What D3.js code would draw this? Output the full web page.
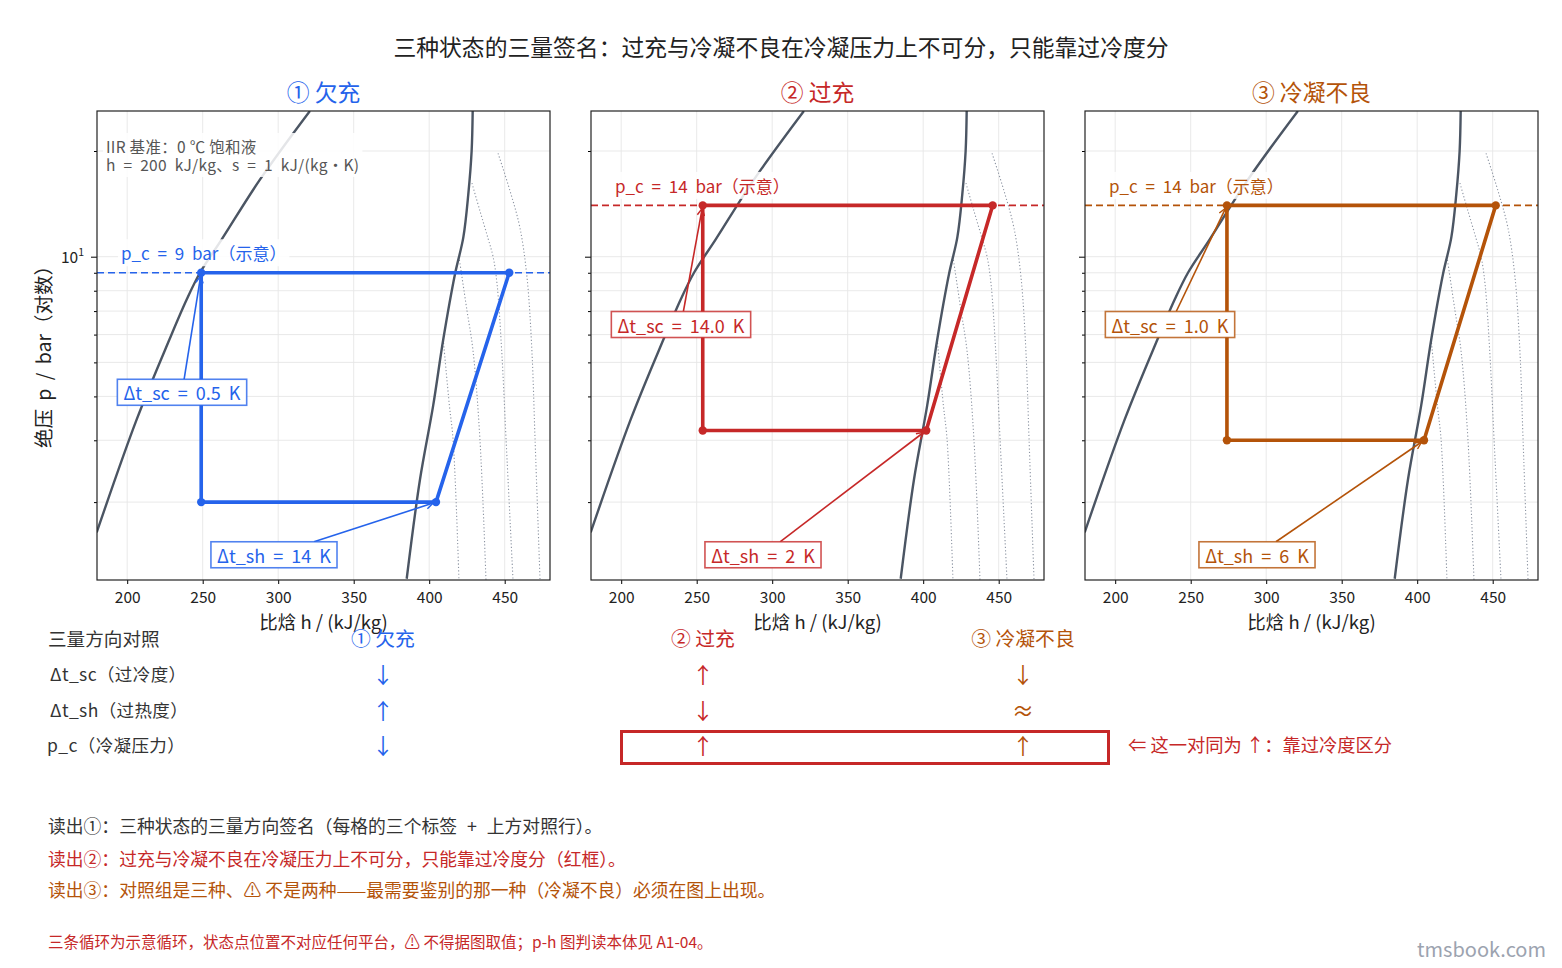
<!DOCTYPE html>
<html>
<head>
<meta charset="utf-8">
<script src="https://cdn.jsdelivr.net/npm/d3@7"></script>
<style>
  body { margin: 0; background: #fff; }
  text { font-family: "Noto Sans CJK SC", "Noto Sans", sans-serif; }
</style>
</head>
<body>
<svg id="chart" width="1562" height="968"></svg>
<script>
// ---- data ----
var hTicks = [200, 250, 300, 350, 400, 450];
var pMajor = [10];
var pMinor = [2, 3, 4, 5, 6, 7, 8, 9, 20];

// saturation dome [h, p]
var satLiquid = [[179.8, 1.64], [206.3, 3.44], [227.9, 5.8], [239.4, 7.55],
                 [248.2, 9.0], [262.6, 11.2], [288, 16.6], [321, 26.0]];
var satVapor = [[385.1, 1.21], [393.9, 2.32], [402.6, 3.76], [409.3, 5.81], [417.1, 8.93],
                [422.6, 11.35], [425.9, 15.07], [428.1, 20.0], [428.8, 26.0]];

// dotted guide curves in the vapour region
var isen1 = [[409.3, 5.81], [413.4, 3.76], [415.8, 3.02], [419.7, 1.2]];
var isen2 = [[419.7, 10], [425, 7.03], [429, 5.41], [433.6, 3.02], [437.6, 1.2]];
var isen3 = [[428.3, 16.2], [433.6, 13.5], [438.9, 11.3], [442.3, 10], [444.9, 8.38], [448, 5.41], [450.9, 3.02], [455.5, 1.2]];
var isen4 = [[445.6, 19.7], [453.5, 15.4], [460.1, 12.08], [464.8, 8.71], [468, 5.41], [470.1, 3.02], [473.4, 1.2]];

var panelNames = ["① 欠充", "② 过充", "③ 冷凝不良"];
var panelColors = ["#2563eb", "#c62828", "#b45309"];
var condP = [9, 14, 14];        // bar
var evapP = [2.0, 3.2, 3.0];    // bar
var hLiqOut = [249, 254, 274];  // after condenser / expansion
var hSuction = [404.5, 402, 404.5];
var hDischarge = [453, 446, 452];
var pcLabels = ["p_c = 9 bar（示意）", "p_c = 14 bar（示意）", "p_c = 14 bar（示意）"];
var scLabels = ["Δt_sc = 0.5 K", "Δt_sc = 14.0 K", "Δt_sc = 1.0 K"];
var shLabels = ["Δt_sh = 14 K", "Δt_sh = 2 K", "Δt_sh = 6 K"];

var tableRows = ["Δt_sc（过冷度）", "Δt_sh（过热度）", "p_c（冷凝压力）"];
var tableArrows = [["↓", "↑", "↓"], ["↑", "↓", "↑"], ["↓", "≈", "↑"]];  // per state

// ---- layout ----
var svg = d3.select("#chart");
var W = 453, plotTop = 111, plotBottom = 580;
var panelLeft = [97, 591, 1085];
// label anchors (data coords) for the annotation boxes
var scAt = [[236.3, 4.11], [239.6, 6.41], [236.3, 6.41]];
var shAt = [[297.2, 1.416], [293.9, 1.416], [293.9, 1.416]];

var x = d3.scaleLinear().domain([180, 480]).range([0, W]);
var y = d3.scaleLog().domain([1.2, 26]).range([plotBottom, plotTop]);

var line = d3.line()
    .x(function(d) { return x(d[0]); })
    .y(function(d) { return y(d[1]); });
var smooth = d3.line()
    .x(function(d) { return x(d[0]); })
    .y(function(d) { return y(d[1]); })
    .curve(d3.curveCatmullRom);

var defs = svg.append("defs");

svg.append("text")
    .attr("x", 781).attr("y", 46)
    .attr("text-anchor", "middle").attr("dominant-baseline", "central")
    .attr("font-size", 22.8).attr("fill", "#222")
    .text("三种状态的三量签名：过充与冷凝不良在冷凝压力上不可分，只能靠过冷度分");

// y label
svg.append("text")
    .attr("transform", "translate(42,352) rotate(-90)")
    .attr("text-anchor", "middle").attr("dominant-baseline", "central")
    .attr("font-size", 19.5).attr("word-spacing", 4).attr("fill", "#222")
    .text("绝压 p / bar（对数）");

function arrowMarker(id, color) {
    defs.append("marker")
        .attr("id", id)
        .attr("viewBox", "0 0 10 10")
        .attr("refX", 9).attr("refY", 5)
        .attr("markerWidth", 9).attr("markerHeight", 9)
        .attr("markerUnits", "userSpaceOnUse")
        .attr("orient", "auto")
        .append("path")
        .attr("d", "M1,1 L9,5 L1,9")
        .attr("fill", "none")
        .attr("stroke", color)
        .attr("stroke-width", 1.6);
}

// box + arrow annotation, arrow clipped at box edge
function annotate(g, label, at, target, color, markerId) {
    var cx = x(at[0]), cy = y(at[1]);
    var t = g.append("text")
        .attr("x", cx).attr("y", cy)
        .attr("text-anchor", "middle").attr("dominant-baseline", "central")
        .attr("font-size", 18).attr("word-spacing", 4).attr("fill", color)
        .text(label);
    var bb = t.node().getBBox();
    var hw = bb.width / 2 + 6, hh = 13;
    var tx = x(target[0]), ty = y(target[1]);
    var dx = tx - cx, dy = ty - cy;
    var s = Math.min(Math.abs(hw / dx), Math.abs(hh / dy));
    var len = Math.sqrt(dx * dx + dy * dy);
    var shrink = 3 / len;
    g.insert("line", "text")
        .attr("x1", cx + dx * s).attr("y1", cy + dy * s)
        .attr("x2", tx - dx * shrink).attr("y2", ty - dy * shrink)
        .attr("stroke", color).attr("stroke-width", 1.6)
        .attr("marker-end", "url(#" + markerId + ")");
    g.insert("rect", "text")
        .attr("x", cx - hw).attr("y", cy - hh)
        .attr("width", hw * 2).attr("height", hh * 2)
        .attr("fill", "#fff").attr("stroke", color)
        .attr("stroke-opacity", 0.8).attr("stroke-width", 1.6);
}

panelNames.forEach(function(name, i) {
    var color = panelColors[i];
    var g = svg.append("g").attr("transform", "translate(" + panelLeft[i] + ",0)");
    arrowMarker("arr" + i, color);

    defs.append("clipPath").attr("id", "clip" + i)
        .append("rect").attr("x", 0).attr("y", plotTop).attr("width", W).attr("height", plotBottom - plotTop);

    g.append("text")
        .attr("x", W / 2).attr("y", 91)
        .attr("text-anchor", "middle").attr("dominant-baseline", "central")
        .attr("font-size", 22.8).attr("fill", color)
        .text(name);

    // grid
    var grid = g.append("g").attr("stroke", "#e6e6e6").attr("stroke-width", 0.9);
    grid.selectAll(".gx").data(hTicks).enter().append("line")
        .attr("x1", function(d) { return x(d); }).attr("x2", function(d) { return x(d); })
        .attr("y1", plotTop).attr("y2", plotBottom);
    grid.selectAll(".gy").data(pMinor.concat(pMajor)).enter().append("line")
        .attr("x1", 0).attr("x2", W)
        .attr("y1", function(d) { return y(d); }).attr("y2", function(d) { return y(d); });

    var plot = g.append("g").attr("clip-path", "url(#clip" + i + ")");

    plot.selectAll(".isen").data([isen1, isen2, isen3, isen4]).enter().append("path")
        .attr("d", smooth)
        .attr("fill", "none").attr("stroke", "#8b93a1")
        .attr("stroke-width", 1.1).attr("stroke-dasharray", "1.2,2.2");

    plot.selectAll(".sat").data([satLiquid, satVapor]).enter().append("path")
        .attr("d", smooth)
        .attr("fill", "none").attr("stroke", "#4b5563").attr("stroke-width", 2.4);

    // p_c dashed reference
    plot.append("line")
        .attr("x1", 0).attr("x2", W)
        .attr("y1", y(condP[i])).attr("y2", y(condP[i]))
        .attr("stroke", color).attr("stroke-width", 1.6)
        .attr("stroke-dasharray", "7,4");

    var pcText = g.append("text")
        .attr("x", 24).attr("y", y(condP[i]) - 20)
        .attr("dominant-baseline", "central")
        .attr("font-size", 17).attr("word-spacing", 4).attr("fill", color)
        .text(pcLabels[i]);
    var pb = pcText.node().getBBox();
    g.insert("rect", function() { return pcText.node(); })
        .attr("x", pb.x - 3).attr("y", pb.y - 1)
        .attr("width", pb.width + 6).attr("height", pb.height + 2)
        .attr("fill", "#fff").attr("fill-opacity", 0.85);

    // cycle
    var cyc = [[hSuction[i], evapP[i]], [hDischarge[i], condP[i]], [hLiqOut[i], condP[i]],
               [hLiqOut[i], evapP[i]], [hSuction[i], evapP[i]]];
    plot.append("path")
        .attr("d", line(cyc))
        .attr("fill", "none").attr("stroke", color)
        .attr("stroke-width", 3.6).attr("stroke-linejoin", "round");
    plot.selectAll(".pt").data(cyc.slice(0, 4)).enter().append("circle")
        .attr("cx", function(d) { return x(d[0]); })
        .attr("cy", function(d) { return y(d[1]); })
        .attr("r", 4.2).attr("fill", color);

    if (i == 0) {
        var note = g.append("g").attr("font-size", 15.5).attr("letter-spacing", 0.3).attr("fill", "#555");
        var n1 = note.append("text").attr("x", 9).attr("y", 146).attr("dominant-baseline", "central")
            .text("IIR 基准：0 ℃ 饱和液");
        var n2 = note.append("text").attr("x", 9).attr("y", 164).attr("dominant-baseline", "central")
            .attr("word-spacing", 4)
            .text("h = 200 kJ/kg、s = 1 kJ/(kg・K)");
        var b1 = n1.node().getBBox(), b2 = n2.node().getBBox();
        note.insert("rect", "text")
            .attr("x", 6).attr("y", b1.y - 2)
            .attr("width", Math.max(b1.width, b2.width) + 6).attr("height", b2.y + b2.height - b1.y + 4)
            .attr("fill", "#fff").attr("fill-opacity", 0.85);
    }

    annotate(g.append("g"), scLabels[i], scAt[i], [hLiqOut[i], condP[i]], color, "arr" + i);
    annotate(g.append("g"), shLabels[i], shAt[i], [hSuction[i], evapP[i]], color, "arr" + i);

    // axes
    var ax = g.append("g").attr("transform", "translate(0," + plotBottom + ")")
        .call(d3.axisBottom(x).tickValues(hTicks).tickSize(4).tickPadding(8));
    ax.selectAll("text").attr("font-size", 15.5).attr("fill", "#222");
    ax.select(".domain").remove();

    var ay = g.append("g")
        .call(d3.axisLeft(y).tickValues(pMajor).tickSize(6).tickFormat(function() { return ""; }));
    ay.select(".domain").remove();
    var ay2 = g.append("g")
        .call(d3.axisLeft(y).tickValues(pMinor).tickSize(3).tickFormat(function() { return ""; }));
    ay2.select(".domain").remove();
    if (i == 0) {
        pMajor.forEach(function(p) {
            var t = g.append("text")
                .attr("x", -13).attr("y", y(p) + 6)
                .attr("text-anchor", "end")
                .attr("font-size", 15.5).attr("fill", "#222");
            t.append("tspan").text("10");
            t.append("tspan").attr("dy", -7).attr("font-size", 10.5).text(Math.round(Math.log10(p)));
        });
    }

    g.append("rect")
        .attr("x", 0).attr("y", plotTop).attr("width", W).attr("height", plotBottom - plotTop)
        .attr("fill", "none").attr("stroke", "#222").attr("stroke-width", 1.2);

    g.append("text")
        .attr("x", W / 2).attr("y", 621)
        .attr("text-anchor", "middle").attr("dominant-baseline", "central")
        .attr("font-size", 18.5).attr("fill", "#222")
        .text("比焓 h / (kJ/kg)");
});

// ---- direction table ----
var colX = [383, 703, 1023];
var rowY = [673, 709, 744];
var tbl = svg.append("g");
tbl.append("text").attr("x", 48).attr("y", 637).attr("dominant-baseline", "central")
    .attr("font-size", 18.6).attr("fill", "#333").text("三量方向对照");
panelNames.forEach(function(name, i) {
    tbl.append("text").attr("x", colX[i]).attr("y", 637)
        .attr("text-anchor", "middle").attr("dominant-baseline", "central")
        .attr("font-size", 19.8).attr("fill", panelColors[i]).text(name);
});
tableRows.forEach(function(r, j) {
    tbl.append("text").attr("x", j == 2 ? 47 : 50).attr("y", rowY[j]).attr("dominant-baseline", "central")
        .attr("font-size", 17.5).attr("letter-spacing", 0.4).attr("fill", "#333").text(r);
    tableArrows.forEach(function(col, i) {
        tbl.append("text").attr("x", colX[i]).attr("y", rowY[j])
            .attr("text-anchor", "middle").attr("dominant-baseline", "central")
            .attr("font-size", 22).attr("fill", panelColors[i]).text(col[j]);
    });
});
tbl.append("rect").attr("x", 621.5).attr("y", 731.5).attr("width", 487).attr("height", 32)
    .attr("fill", "none").attr("stroke", "#c62828").attr("stroke-width", 3);
tbl.append("text").attr("x", 1128).attr("y", 744).attr("dominant-baseline", "central")
    .attr("font-size", 18.3).attr("fill", "#c62828").text("⇐ 这一对同为 ↑：靠过冷度区分");

// ---- reading notes ----
var notes = [
    ["读出①：三种状态的三量方向签名（每格的三个标签 + 上方对照行）。", "#333", 825, 6],
    ["读出②：过充与冷凝不良在冷凝压力上不可分，只能靠过冷度分（红框）。", "#c62828", 858, 0],
    ["读出③：对照组是三种、⚠ 不是两种——最需要鉴别的那一种（冷凝不良）必须在图上出现。", "#b45309", 889, 0]
];
notes.forEach(function(n) {
    svg.append("text").attr("x", 48).attr("y", n[2]).attr("dominant-baseline", "central")
        .attr("font-size", 17.8).attr("word-spacing", n[3]).attr("fill", n[1]).text(n[0]);
});
svg.append("text").attr("x", 48).attr("y", 941).attr("dominant-baseline", "central")
    .attr("font-size", 15.5).attr("fill", "#c62828")
    .text("三条循环为示意循环，状态点位置不对应任何平台，⚠ 不得据图取值；p-h 图判读本体见 A1-04。");

svg.append("text").attr("x", 1546).attr("y", 948)
    .attr("text-anchor", "end").attr("dominant-baseline", "central")
    .attr("font-family", "Liberation Sans, Arial, sans-serif")
    .attr("font-size", 20).attr("fill", "#9ca3af").text("tmsbook.com");
</script>
</body>
</html>
